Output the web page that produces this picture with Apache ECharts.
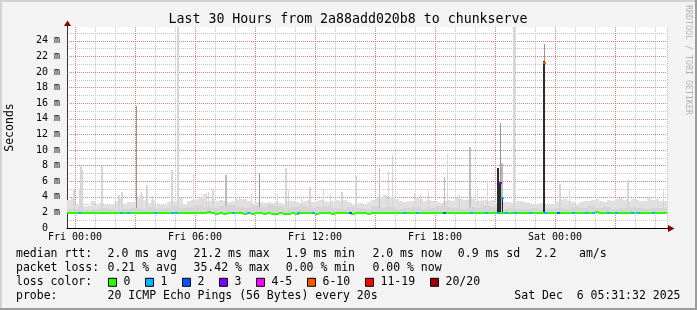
<!DOCTYPE html>
<html><head><meta charset="utf-8">
<script src="https://cdn.jsdelivr.net/npm/echarts@6/dist/echarts.min.js"></script>
<style>html,body{margin:0;padding:0;background:#f3f3f3}#c{width:697px;height:310px}</style>
</head><body><div id="c"></div>
<script>
// ---------- DATA ----------
const titleText = 'Last 30 Hours from 2a88add020b8 to chunkserve';
const yAxisTitle = 'Seconds';
const sideText = 'RRDTOOL / TOBI OETIKER';
// time in minutes relative to Fri 00:00
const timeStart = -24, timeEnd = 1776;
const xTickLabels = ['Fri 00:00', 'Fri 06:00', 'Fri 12:00', 'Fri 18:00', 'Sat 00:00'];
const yMaxMs = 25.77;
const smokeLowMs = 1.75;

// light smoke top, 12-minute buckets (ms)
const smokeFloor = [
  3.6,3.8,3.0,3.2,2.8,2.8,3.4,2.9,3.2,2.9,
  2.9,3.1,3.5,4.0,3.1,3.3,3.3,3.8,4.2,3.6,
  3.2,3.6,2.9,3.0,2.9,3.3,3.4,3.5,3.9,3.1,
  3.5,3.6,3.7,3.8,4.4,3.5,3.7,3.4,3.6,3.4,
  3.3,3.4,3.6,3.7,3.7,3.4,3.2,3.3,3.3,3.2,
  3.3,3.2,3.3,3.2,3.1,3.4,3.5,3.3,3.2,3.4,
  3.6,3.3,3.5,3.6,3.4,3.3,3.4,3.6,3.5,3.6,
  3.3,3.0,3.1,3.2,3.0,3.3,3.6,3.9,4.0,4.2,
  3.9,4.0,3.7,3.4,3.3,3.4,3.5,3.9,3.7,3.5,
  3.6,3.4,3.3,3.2,3.4,3.6,3.5,3.8,3.7,3.6,
  3.6,3.7,3.4,3.5,3.6,3.5,3.6,3.2,3.4,3.3,
  3.3,3.2,3.5,3.4,3.3,3.2,3.0,3.1,3.2,3.0,
  2.9,3.1,3.3,3.6,3.7,3.4,3.3,3.0,3.3,3.4,
  3.5,3.6,3.7,3.4,3.3,3.6,3.5,3.7,3.8,3.6,
  3.5,3.7,3.6,3.4,3.5,3.8,3.6,3.7,3.5,3.5
];
// denser smoke top, 24-minute buckets (ms)
const smokeMid = [
  2.4,2.5,2.3,2.4,2.6,2.4,2.3,2.5,2.6,2.4,2.7,2.5,2.6,
  2.8,2.6,2.7,2.9,2.7,2.6,2.8,2.9,2.7,2.6,2.8,2.7,2.9,2.8,2.6,2.7,2.8,2.6,2.7,2.8,
  2.6,2.5,2.7,2.6,2.5,2.8,2.6,2.7,2.5,2.6,2.7,2.5,2.6,2.8,2.7,2.6,2.5,2.7,2.6,2.8,2.7,2.5,2.6,2.4,2.5,2.6,2.4,2.5,
  2.6,2.5,2.7,2.6,2.8,2.6,2.7,2.5,2.6,2.7,2.6,2.5,2.6,2.6
];
// single 3-minute smoke spikes: time (min), top (ms), shade (0 light,1 medium,2 dark)
const spikeTime  = [-6,-3,12,15,18,21,78,81,120,129,132,138,141,183,198,213,216,231,288,291,306,309,354,393,399,411,414,450,453,483,528,552,606,630,633,639,678,702,705,744,765,798,801,840,843,912,933,939,951,1017,1035,1059,1107,1116,1152,1182,1185,1206,1218,1236,1275,1278,1281,1314,1317,1407,1452,1455,1482,1656,1659,1764];
const spikeTop   = [5.0,5.0,5.0,8.0,8.0,7.4,7.9,7.9,4.0,4.2,4.2,4.6,4.6,15.7,4.6,5.5,5.5,4.1,7.5,7.5,25.8,25.8,7.1,4.5,4.6,4.9,4.9,6.8,6.8,3.9,4.4,7.0,4.3,7.7,7.7,4.9,4.1,5.3,5.3,4.9,4.4,4.6,4.6,6.7,6.7,7.7,4.2,7.3,9.3,4.5,4.2,4.7,6.6,9.5,4.4,10.4,10.4,5.3,3.7,6.2,13.4,8.3,8.3,25.8,25.8,23.6,5.7,5.7,4.9,6.1,6.1,4.7];
const spikeShade = [0,0,0,0,0,0,0,0,0,0,0,0,0,2,0,0,0,0,0,0,0,0,0,0,0,0,0,1,1,0,0,2,0,0,0,0,0,0,0,0,0,0,0,0,0,1,0,0,0,0,0,0,1,0,0,1,1,0,0,0,2,1,1,0,0,2,0,0,0,0,0,0];
// dense (dark) smoke samples
const denseTime = [1266,1269,1272,1275,1281,1404,1407];
const denseTop  = [7.65,7.65,5.9,5.9,4.0,21.4,21.4];

// median rtt, 12-minute buckets (ms)
const medianRtt = [
  2.0,2.0,2.0,2.0,2.0,2.0,2.0,2.0,2.0,2.0,
  2.0,2.0,2.0,2.0,2.0,2.0,2.0,2.0,2.0,2.0,
  2.0,2.0,2.0,2.0,2.0,2.0,2.0,2.0,2.0,2.0,
  2.0,2.0,2.0,2.0,2.0,2.1,2.0,1.9,2.0,1.9,
  2.0,2.0,2.0,2.0,1.9,2.0,1.9,2.0,2.0,1.9,
  2.0,1.9,1.9,2.0,1.9,1.9,2.0,1.9,2.0,2.0,
  2.0,2.0,1.9,2.0,2.0,2.0,1.9,2.0,2.0,2.0,
  2.0,1.9,2.0,2.0,2.0,1.9,2.0,2.0,2.0,2.0,
  2.0,2.0,2.0,2.0,2.0,2.0,2.0,2.0,2.0,2.0,
  2.0,2.0,2.0,2.0,2.0,2.0,2.0,2.0,2.0,2.0,
  2.0,2.0,2.0,2.0,2.0,2.0,2.0,2.0,2.0,2.0,
  2.0,2.0,2.0,2.0,2.0,2.0,2.0,2.0,2.0,2.0,
  2.0,2.0,2.0,2.0,2.0,2.0,2.0,2.0,2.0,2.0,
  2.0,2.0,2.15,2.0,2.0,2.0,2.0,2.0,2.0,2.0,
  2.0,2.0,2.0,2.0,2.0,2.0,2.0,2.0,2.0,2.0
];
// samples with packet loss: time (min), lost pings of 20, median (ms)
const lossTime   = [12,138,159,240,291,303,474,519,669,714,825,987,1026,1107,1188,1233,1269,1275,1281,1293,1320,1365,1407,1410,1449,1494,1533,1554,1599,1623,1671,1689,1734];
const lossCount  = [1,1,1,1,1,1,1,1,1,1,2,1,1,2,1,1,1,3,1,1,1,1,7,1,2,1,1,1,1,1,1,1,1];
const lossMedian = [2.0,2.0,2.0,2.0,2.0,2.0,2.0,2.0,2.0,2.0,2.0,2.0,2.0,2.0,2.0,2.0,2.0,5.8,3.9,2.0,2.0,2.0,21.2,2.0,2.0,2.0,2.0,2.0,2.0,2.0,2.0,2.0,2.0];

const lossBins   = ['0','1','2','3','4-5','6-10','11-19','20/20'];
const lossColors = ['#26ff00','#00b8ff','#0059ff','#7e00ff','#ff00ff','#ff5500','#ff0000','#a00000'];

const rttStats   = ['2.0 ms avg','21.2 ms max','1.9 ms min','2.0 ms now','0.9 ms sd','2.2','am/s'];
const lossStats  = ['0.21 % avg','35.42 % max','0.00 % min','0.00 % now'];
const probeText  = '20 ICMP Echo Pings (56 Bytes) every 20s';
const dateText   = 'Sat Dec  6 05:31:32 2025';

// ---------- BUILD ----------
function lossBin(n) {
  if (n <= 3) return n;
  if (n <= 5) return 4;
  if (n <= 10) return 5;
  if (n <= 19) return 6;
  return 7;
}
const span = timeEnd - timeStart;
const floorStep = span / smokeFloor.length, midStep = span / smokeMid.length, medStep = span / medianRtt.length;
const floorData = smokeFloor.map((v, i) => [timeStart + i * floorStep, timeStart + (i + 1) * floorStep, smokeLowMs, v]);
const midData = smokeMid.map((v, i) => [timeStart + i * midStep, timeStart + (i + 1) * midStep, smokeLowMs, v]);
const spikeData = spikeTime.map((t, i) => [t, t + 3, smokeLowMs, spikeTop[i], spikeShade[i]]);
const denseData = denseTime.map((t, i) => [t, t + 3, 1.9, denseTop[i]]);
const medData = medianRtt.map((v, i) => [timeStart + i * medStep, timeStart + (i + 1) * medStep, v, 0]);
const lossData = lossTime.map((t, i) => [t - 3, t + 6, lossMedian[i], lossBin(lossCount[i])]);

const shadeColors = ['#d6d6d6', '#bdbdbd', '#979797'];

function rectRender(colorFn) {
  return function (params, api) {
    const lo = api.value(2), hi = Math.min(api.value(3), yMaxMs);
    const p0 = api.coord([api.value(0), hi]);
    const p1 = api.coord([api.value(1), lo]);
    const x0 = Math.round(p0[0]), x1 = Math.round(p1[0]);
    const y0 = Math.round(p0[1]), y1 = Math.round(p1[1]);
    return { type: 'rect', shape: { x: x0, y: y0, width: Math.max(1, x1 - x0), height: Math.max(1, y1 - y0) },
      style: { fill: colorFn(api) } };
  };
}
function lineRender(params, api) {
  const p0 = api.coord([api.value(0), api.value(2)]);
  const p1 = api.coord([api.value(1), api.value(2)]);
  const x0 = Math.round(p0[0]), x1 = Math.round(p1[0]);
  const y = Math.round(p0[1] - 0.5);
  return { type: 'rect', shape: { x: x0, y: y, width: Math.max(1, x1 - x0), height: 2 },
    style: { fill: lossColors[api.value(3)] } };
}

const mono = 'DejaVu Sans Mono';
const rectSeries = (data, render, z) => ({
  type: 'custom', data, renderItem: render, xAxisIndex: 0, yAxisIndex: 0,
  encode: { x: [0, 1], y: [2, 3] }, z, clip: true, silent: true
});

const xBase = { type: 'value', min: timeStart, max: timeEnd, gridIndex: 0, position: 'bottom', offset: 0 };
const yBase = { type: 'value', min: 0, max: yMaxMs, gridIndex: 0, position: 'left', offset: 0 };

const graphic = [];
const txt = (x, y, text, size, extra) => Object.assign({ type: 'text', x, y, silent: true,
  style: Object.assign({ text, fontFamily: mono, fontSize: size, fill: '#000', verticalAlign: 'middle', align: 'left' }, extra || {}) });
// frame
graphic.push({ type: 'rect', shape: { x: 0, y: 0, width: 697, height: 2 }, style: { fill: '#d2d2d2' }, silent: true });
graphic.push({ type: 'rect', shape: { x: 0, y: 0, width: 2, height: 310 }, style: { fill: '#d2d2d2' }, silent: true });
graphic.push({ type: 'rect', shape: { x: 0, y: 308, width: 697, height: 2 }, style: { fill: '#9c9c9c' }, silent: true });
graphic.push({ type: 'rect', shape: { x: 695, y: 0, width: 2, height: 310 }, style: { fill: '#9c9c9c' }, silent: true });
// title + side texts
graphic.push(txt(348, 19.5, titleText, 13.25, { align: 'center' }));
graphic.push(Object.assign(txt(10, 127.5, yAxisTitle, 11.5, { align: 'center' }), { rotation: Math.PI / 2 }));
graphic.push(Object.assign(txt(688, 60, sideText, 8.3, { align: 'center', fill: '#b4b4b4' }), { rotation: -Math.PI / 2 }));
// axis arrows
graphic.push({ type: 'line', shape: { x1: 67.5, y1: 27, x2: 67.5, y2: 23 }, style: { stroke: '#333', lineWidth: 1 }, silent: true });
graphic.push({ type: 'polygon', shape: { points: [[64, 26], [71, 26], [67.5, 20.5]] }, style: { fill: '#8a0000' }, silent: true });
graphic.push({ type: 'line', shape: { x1: 667, y1: 228.5, x2: 670, y2: 228.5 }, style: { stroke: '#000', lineWidth: 1 }, silent: true });
graphic.push({ type: 'polygon', shape: { points: [[668, 225], [668, 232], [674.5, 228.5]] }, style: { fill: '#8a0000' }, silent: true });
// legend
const col = [107.6, 193.5, 285.8, 372.4, 457.8, 535.6, 579];
const ly = [254.3, 268.3, 282.3, 296.3];
graphic.push(txt(16, ly[0], 'median rtt:', 11.5));
rttStats.forEach((s, i) => graphic.push(txt(col[i], ly[0], s, 11.5)));
graphic.push(txt(16, ly[1], 'packet loss:', 11.5));
lossStats.forEach((s, i) => graphic.push(txt(col[i], ly[1], s, 11.5)));
graphic.push(txt(16, ly[2], 'loss color:', 11.5));
let bx = 108;
lossBins.forEach((b, i) => {
  graphic.push({ type: 'rect', shape: { x: bx + 0.5, y: ly[2] - 4, width: 8, height: 8 }, style: { fill: lossColors[i], stroke: '#000', lineWidth: 1 }, silent: true });
  graphic.push(txt(bx + 15.5, ly[2], b, 11.5));
  bx += 30 + 7 * b.length;
});
graphic.push(txt(16, ly[3], 'probe:', 11.5));
graphic.push(txt(107.6, ly[3], probeText, 11.5));
graphic.push(txt(680.5, ly[3], dateText, 11.5, { align: 'right' }));

const option = {
  animation: false,
  backgroundColor: '#f3f3f3',
  grid: { left: 67, top: 27, width: 600, height: 201, show: true, backgroundColor: '#ffffff', borderWidth: 0 },
  xAxis: [
    Object.assign({}, xBase, { minInterval: 60, maxInterval: 60, z: 1,
      axisLine: { show: true, onZero: false, lineStyle: { color: '#000', width: 1 } }, axisTick: { show: false }, axisLabel: { show: false },
      splitLine: { show: true, showMinLine: false, showMaxLine: true, lineStyle: { color: '#c4c4c4', width: 1, type: [1, 1] } } }),
    Object.assign({}, xBase, { minInterval: 180, maxInterval: 180, z: 2,
      axisLine: { show: false }, axisTick: { show: false }, axisLabel: { show: false },
      splitLine: { show: true, showMinLine: false, showMaxLine: false, lineStyle: { color: 'rgba(235,60,60,0.5)', width: 1, type: [1, 1] } } }),
    Object.assign({}, xBase, { minInterval: 360, maxInterval: 360, z: 3,
      axisLine: { show: false }, axisTick: { show: false }, splitLine: { show: false },
      axisLabel: { show: true, showMinLabel: false, showMaxLabel: false, margin: 4, color: '#000', fontFamily: mono, fontSize: 10,
        formatter: v => { const k = Math.round(v / 360); return (Math.abs(v - k * 360) < 1e-6 && xTickLabels[k]) ? xTickLabels[k] : ''; } } })
  ],
  yAxis: [
    Object.assign({}, yBase, { minInterval: 1, maxInterval: 1, z: 1,
      axisLine: { show: true, onZero: false, lineStyle: { color: '#333', width: 1 } }, axisTick: { show: false }, axisLabel: { show: false },
      splitLine: { show: true, showMinLine: false, showMaxLine: false, lineStyle: { color: '#c4c4c4', width: 1, type: [1, 1] } } }),
    Object.assign({}, yBase, { interval: 2, z: 2,
      axisLine: { show: false }, axisTick: { show: false },
      axisLabel: { show: true, showMaxLabel: false, margin: 7, color: '#000', fontFamily: mono, fontSize: 10,
        formatter: v => v === 0 ? '0  ' : (Math.round(v) + ' m') },
      splitLine: { show: true, showMinLine: false, showMaxLine: false, lineStyle: { color: 'rgba(235,60,60,0.5)', width: 1, type: [1, 1] } } })
  ],
  series: [
    rectSeries(floorData, rectRender(() => '#e0e0e0'), 2),
    rectSeries(spikeData, rectRender(api => shadeColors[api.value(4)]), 3),
    rectSeries(midData, rectRender(() => '#d5d5d5'), 4),
    rectSeries(denseData, rectRender(() => '#2a2a2a'), 5),
    rectSeries(medData, lineRender, 6),
    rectSeries(lossData, lineRender, 7)
  ],
  graphic
};
const chart = echarts.init(document.getElementById('c'), null, { renderer: 'canvas' });
chart.setOption(option);
</script></body></html>
